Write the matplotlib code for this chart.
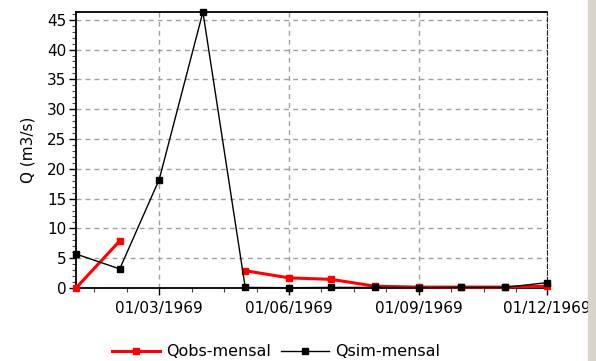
import numpy as np
import matplotlib.pyplot as plt
import matplotlib.dates as mdates
from datetime import date

# monthly values (1969)
months = [date(1969, m, 1) for m in range(1, 13)]
q_obs = [0.0, 7.9, np.nan, np.nan, 2.9, 1.7, 1.45, 0.3, 0.15, 0.15, 0.15, 0.3]
q_sim = [5.7, 3.2, 18.2, 46.3, 0.1, 0.05, 0.1, 0.1, 0.05, 0.1, 0.1, 0.9]

y_ticks = np.arange(0, 46, 5)
x_ticks = [date(1969, 3, 1), date(1969, 6, 1), date(1969, 9, 1), date(1969, 12, 1)]
x_labels = ['01/03/1969', '01/06/1969', '01/09/1969', '01/12/1969']

plt.rcParams['font.family'] = 'DejaVu Sans'

fig = plt.figure(figsize=(5.96, 3.61), dpi=100)
ax = fig.add_axes([76/596, 73/361, 471/596, 276/361])

ax.plot(months, q_obs, color='#ff0000', lw=2.2, marker='s', ms=4.5,
        label='Qobs-mensal', clip_on=False, zorder=4)
ax.plot(months, q_sim, color='black', lw=1.0, marker='s', ms=4.5,
        label='Qsim-mensal', clip_on=False, zorder=5)

ax.set_xlim(mdates.date2num(date(1969, 1, 1)), mdates.date2num(date(1969, 12, 1)))
ax.set_ylim(0, 46.3)

ax.set_yticks(y_ticks)
ax.set_yticks(np.arange(0, 46.3, 1), minor=True)
ax.set_xticks(mdates.date2num(x_ticks))
ax.set_xticklabels(x_labels)
# minor x ticks every quarter of the major spacing
start = mdates.date2num(date(1969, 3, 1))
step = 23
ax.set_xticks(np.arange(start - 2*step, mdates.date2num(date(1969, 12, 1)) + 1, step), minor=True)

ax.tick_params(axis='both', which='major', length=5, width=1, labelsize=11, colors='black')
ax.tick_params(axis='both', which='minor', length=3, width=0.8, colors='#444444')
ax.tick_params(axis='x', pad=4)
ax.tick_params(axis='y', pad=2)

ax.grid(True, which='major', color='#a0a0a0', linestyle=(0, (3.5, 3)), lw=1.0)
for s in ['left', 'top', 'bottom']:
    ax.spines[s].set_color('black')
    ax.spines[s].set_linewidth(1.3)
ax.spines['right'].set_linestyle((0, (4, 2)))
ax.spines['right'].set_color('#222222')

ax.set_ylabel('Q (m3/s)', fontsize=11, labelpad=8)

fig.legend(loc='lower center', bbox_to_anchor=(0.463, -0.035), ncol=2, frameon=False,
           fontsize=11.5, handlelength=3.0, handletextpad=0.4, columnspacing=0.6)

# window frame strip on the right edge
fig.patches.append(plt.Rectangle((588/596, 0), 8/596, 1, transform=fig.transFigure,
                                 color='#d8d4cc', zorder=0))

fig.savefig('out.png', dpi=100)
